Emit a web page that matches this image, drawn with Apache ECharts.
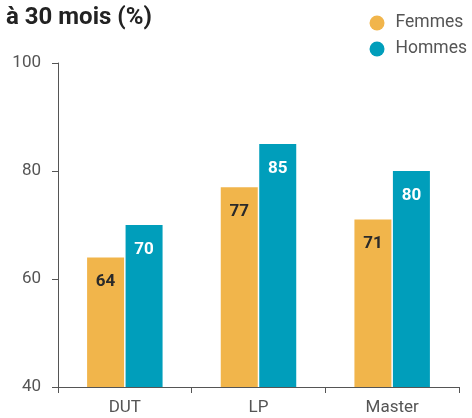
<!DOCTYPE html>
<html>
<head>
<meta charset="utf-8">
<script src="https://cdn.jsdelivr.net/npm/echarts@6/dist/echarts.min.js"></script>
<style>
  html, body { margin: 0; padding: 0; background: #fff; }
  #chart { width: 472px; height: 418px; }
</style>
</head>
<body>
<div id="chart"></div>
<script>
// Employment rate at 30 months, by diploma and sex
const categories = ['DUT', 'LP', 'Master'];
const femmes = [64, 77, 71];
const hommes = [70, 85, 80];
const yTicks = [40, 60, 80, 100];

const chart = echarts.init(document.getElementById('chart'), null, { renderer: 'canvas' });

const axisColor = '#555';
const font = 'Roboto, "Noto Sans", sans-serif';

chart.setOption({
  animation: false,
  textStyle: { fontFamily: font },
  title: {
    text: 'à 30 mois (%)',
    left: 1,
    top: 1,
    textStyle: { fontFamily: font, fontSize: 24, fontWeight: 'bold', color: '#222' }
  },
  legend: {
    orient: 'vertical',
    right: 0,
    top: 9,
    itemGap: 8,
    icon: 'circle',
    itemWidth: 15,
    itemHeight: 15,
    textStyle: { fontFamily: font, fontSize: 17.5, color: '#555', padding: [0, 0, 0, 6] },
    data: ['Femmes', 'Hommes']
  },
  grid: { left: 58, right: 13, top: 63, bottom: 31, containLabel: false },
  xAxis: {
    type: 'category',
    data: categories,
    axisLine: { lineStyle: { color: axisColor, width: 1 } },
    axisTick: { show: true, length: 6, lineStyle: { color: axisColor } },
    axisLabel: { color: '#555', fontSize: 17, margin: 12, fontFamily: font }
  },
  yAxis: {
    type: 'value',
    min: yTicks[0],
    max: yTicks[yTicks.length - 1],
    interval: 20,
    splitLine: { show: false },
    axisLine: { show: true, lineStyle: { color: axisColor, width: 1 } },
    axisTick: { show: true, length: 6, lineStyle: { color: axisColor } },
    axisLabel: { color: '#555', fontSize: 17, margin: 17, fontFamily: font }
  },
  series: [
    {
      name: 'Femmes',
      type: 'bar',
      data: femmes,
      barWidth: 37,
      barGap: '4%',
      itemStyle: { color: '#F1B54B' },
      label: {
        show: true,
        position: 'insideTop',
        distance: 16,
        color: '#2a2a2a',
        fontSize: 17,
        fontWeight: 'bold',
        fontFamily: font
      }
    },
    {
      name: 'Hommes',
      type: 'bar',
      data: hommes,
      barWidth: 37,
      itemStyle: { color: '#009EBB' },
      label: {
        show: true,
        position: 'insideTop',
        distance: 16,
        color: '#fff',
        fontSize: 17,
        fontWeight: 'bold',
        fontFamily: font
      }
    }
  ]
});
</script>
</body>
</html>
